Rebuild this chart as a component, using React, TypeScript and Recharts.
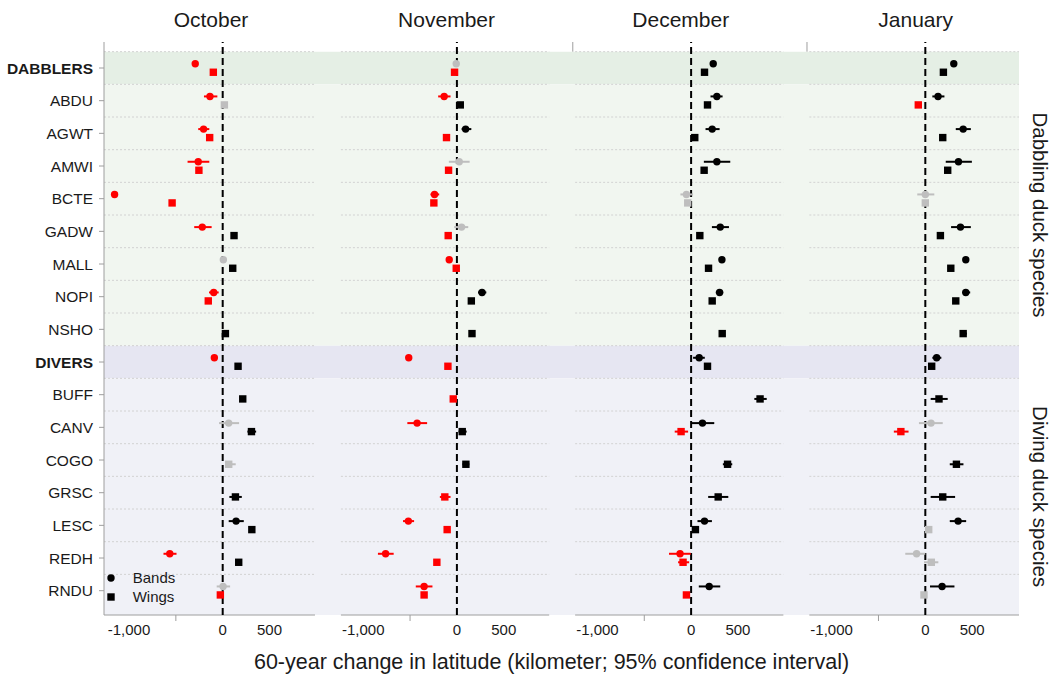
import React from "react";
import {
  ScatterChart,
  Scatter,
  XAxis,
  YAxis,
  ReferenceArea,
  ReferenceLine,
  ErrorBar,
  Legend,
} from "recharts";

// [estimate, CI low, CI high, significance] per species row, null = no estimate
type Est = [number, number | null, number | null, "n" | "p" | "ns"] | null;

const months = ["October", "November", "December", "January"];
const species = [
  "DABBLERS", "ABDU", "AGWT", "AMWI", "BCTE", "GADW", "MALL", "NOPI", "NSHO",
  "DIVERS", "BUFF", "CANV", "COGO", "GRSC", "LESC", "REDH", "RNDU",
];
const groupRows = ["DABBLERS", "DIVERS"];
const xTicks = [-1000, -500, 0, 500];
const xTickLabels = ["-1,000", "", "0", "500"];
const axisTitle = "60-year change in latitude (kilometer; 95% confidence interval)";

const octBands: Est[] = [
  [-293, null, null, "n"], [-136, -200, -57, "n"], [-204, -261, -143, "n"],
  [-261, -375, -143, "n"], [-1154, null, null, "n"], [-218, -304, -118, "n"],
  [7, null, null, "ns"], [-96, -146, -43, "n"], null,
  [-89, null, null, "n"], null, [64, -39, 175, "ns"], null, null,
  [143, 64, 225, "p"], [-565, -632, -493, "n"], [4, -64, 79, "ns"],
];
const octWings: Est[] = [
  [-100, null, null, "n"], [18, null, null, "ns"], [-139, null, null, "n"],
  [-254, null, null, "n"], [-540, null, null, "n"], [121, null, null, "p"],
  [107, null, null, "p"], [-154, null, null, "n"], [29, null, null, "p"],
  [164, null, null, "p"], [214, null, null, "p"], [307, 264, 357, "p"],
  [64, 25, 139, "ns"], [136, 71, 204, "p"], [311, null, null, "p"],
  [171, null, null, "p"], [-25, null, null, "n"],
];
const novBands: Est[] = [
  [-7, null, null, "ns"], [-136, -200, -68, "n"], [93, 50, 154, "p"],
  [25, -86, 136, "ns"], [-239, -282, -189, "n"], [50, -29, 121, "ns"],
  [-82, null, null, "n"], [268, 225, 314, "p"], null,
  [-514, null, null, "n"], null, [-425, -529, -318, "n"], null, null,
  [-518, -575, -457, "n"], [-761, -843, -675, "n"], [-350, -439, -261, "n"],
];
const novWings: Est[] = [
  [-25, null, null, "n"], [36, null, null, "p"], [-111, null, null, "n"],
  [-89, null, null, "n"], [-246, null, null, "n"], [-93, null, null, "n"],
  [-7, null, null, "n"], [154, null, null, "p"], [161, null, null, "p"],
  [-96, null, null, "n"], [-39, null, null, "n"], [57, 18, 104, "p"],
  [96, 60, 132, "p"], [-129, -182, -68, "n"], [-104, null, null, "n"],
  [-214, null, null, "n"], [-350, null, null, "n"],
];
const decBands: Est[] = [
  [236, null, null, "p"], [275, 207, 336, "p"], [225, 154, 304, "p"],
  [275, 136, 418, "p"], [-50, -114, 21, "ns"], [311, 222, 404, "p"],
  [329, null, null, "p"], [304, 264, 343, "p"], null,
  [86, 21, 146, "p"], null, [121, 4, 247, "p"], null, null,
  [143, 68, 222, "p"], [-118, -236, -4, "n"], [193, 82, 311, "p"],
];
const decWings: Est[] = [
  [143, null, null, "p"], [175, null, null, "p"], [39, null, null, "p"],
  [139, null, null, "p"], [-36, null, null, "ns"], [93, null, null, "p"],
  [186, null, null, "p"], [225, null, null, "p"], [332, null, null, "p"],
  [175, null, null, "p"], [736, 675, 807, "p"], [-107, -175, -32, "n"],
  [389, 339, 439, "p"], [289, 182, 397, "p"], [46, null, null, "p"],
  [-86, -139, -21, "n"], [-50, null, null, "n"],
];
const janBands: Est[] = [
  [304, null, null, "p"], [136, 75, 204, "p"], [404, 325, 486, "p"],
  [354, 218, 497, "p"], [0, -86, 96, "ns"], [375, 275, 486, "p"],
  [432, null, null, "p"], [432, 397, 479, "p"], null,
  [121, 75, 171, "p"], null, [61, -68, 186, "ns"], null, null,
  [350, 261, 436, "p"], [-93, -214, 0, "ns"], [179, 50, 311, "p"],
];
const janWings: Est[] = [
  [193, null, null, "p"], [-75, null, null, "n"], [186, null, null, "p"],
  [239, null, null, "p"], [0, null, null, "ns"], [161, null, null, "p"],
  [272, null, null, "p"], [325, null, null, "p"], [404, 372, 443, "p"],
  [68, null, null, "p"], [146, 57, 239, "p"], [-261, -336, -179, "n"],
  [332, 261, 407, "p"], [186, 57, 318, "p"], [36, null, null, "ns"],
  [64, -14, 139, "ns"], [-14, null, null, "ns"],
];

const bands = [octBands, novBands, decBands, janBands];
const wings = [octWings, novWings, decWings, janWings];

// the four month panels share one x axis, each shifted by PANEL km
const PANEL = 2500;
const LEFT = -1238;
const RIGHT = 985;
const X_MIN = -1267;
const X_MAX = 8500;
const Y_MIN = 0.204;
const Y_MAX = 17.744;
const DODGE = 0.13;

const FONT = "'Liberation Sans', Arial, Helvetica, sans-serif";
const TEXT = "#1a1a1a";
const AXIS = "#9e9e9e";
const COLORS = { n: "#ff0000", p: "#000000", ns: "#bebebe" };

const panelLeft = (k: number) => (k === 0 ? X_MIN : LEFT + k * PANEL);
const panelRight = (k: number) => (k === 3 ? X_MAX : RIGHT + k * PANEL);

function buildPoints(cols: Est[][], shift: number, sig: string) {
  const out: { x: number; y: number; err: [number, number] }[] = [];
  cols.forEach((col, k) =>
    col.forEach((e, i) => {
      if (!e || e[3] !== sig) return;
      const [est, lo, hi] = e;
      out.push({
        x: est + k * PANEL,
        y: i + 1 + shift,
        err: [lo == null ? 0 : est - lo, hi == null ? 0 : hi - est],
      });
    })
  );
  return out;
}

const rowTicks = species.map((_, i) => i + 1);
const xTickValues = months.flatMap((_, k) => xTicks.map((v) => v + k * PANEL));
const gridRows = species.map((_, i) => i + 0.5);

const YTick = (p: any) => {
  const name = species[p.payload.value - 1];
  return (
    <text
      x={p.x}
      y={p.y}
      dy={5.5}
      textAnchor="end"
      fontSize={15.5}
      fontFamily={FONT}
      fontWeight={groupRows.includes(name) ? 700 : 400}
      fill={TEXT}
    >
      {name}
    </text>
  );
};

const XTick = (p: any) => {
  const v = p.payload.value;
  const k = Math.round(v / PANEL);
  const local = v - k * PANEL;
  const label = xTickLabels[xTicks.indexOf(local)];
  return (
    <g>
      {local === -500 && (
        <line x1={p.x} x2={p.x} y1={p.y} y2={p.y + 6} stroke={AXIS} strokeWidth={1} />
      )}
      <text x={p.x} y={p.y + 20} textAnchor="middle" fontSize={15} fontFamily={FONT} fill={TEXT}>
        {label}
      </text>
    </g>
  );
};

const circleShape = (color: string) => (p: any) =>
  <circle cx={p.cx} cy={p.cy} r={3.7} fill={color} />;
const squareShape = (color: string) => (p: any) =>
  <rect x={p.cx - 3.7} y={p.cy - 3.7} width={7.4} height={7.4} fill={color} />;

const monthTitle = (text: string) => (p: any) => {
  const vb = p.viewBox || p;
  return (
    <text x={vb.x + vb.width / 2 + 1.5} y={vb.y - 15.5} textAnchor="middle" fontSize={21} fontFamily={FONT} fill={TEXT}>
      {text}
    </text>
  );
};

const stripLabel = (text: string) => (p: any) => {
  const vb = p.viewBox || p;
  const cx = vb.x + vb.width + 21.5;
  const cy = vb.y + vb.height / 2;
  return (
    <text
      x={cx}
      y={cy}
      transform={`rotate(90 ${cx} ${cy})`}
      textAnchor="middle"
      dominantBaseline="central"
      fontSize={20.5}
      fontFamily={FONT}
      fill={TEXT}
    >
      {text}
    </text>
  );
};

const axisLabel = (p: any) => {
  const vb = p.viewBox || p;
  return (
    <text x={vb.x + vb.width / 2 - 10} y={vb.y + vb.height - 7.3} textAnchor="middle" fontSize={21.5} fontFamily={FONT} fill={TEXT}>
      {axisTitle}
    </text>
  );
};

const LegendBox = () => (
  <svg width={100} height={40} style={{ display: "block" }}>
    <circle cx={7} cy={9} r={3.7} fill="#000" />
    <text x={28.7} y={14.3} fontSize={15} fontFamily={FONT} fill={TEXT}>Bands</text>
    <rect x={3.3} y={24.3} width={7.4} height={7.4} fill="#000" />
    <text x={28.7} y={33.3} fontSize={15} fontFamily={FONT} fill={TEXT}>Wings</text>
  </svg>
);

const sigOrder: ("ns" | "n" | "p")[] = ["ns", "n", "p"];

export default function App() {
  return (
    <div style={{ position: "absolute", left: 0, top: 0, background: "#fff" }}>
      <ScatterChart width={1059} height={676} margin={{ top: 42, right: 40, bottom: 0, left: 0 }}>
        <XAxis
          type="number"
          dataKey="x"
          domain={[X_MIN, X_MAX]}
          allowDataOverflow
          ticks={xTickValues}
          interval={0}
          height={61}
          tick={(p: any) => <XTick {...p} />}
          tickLine={false}
          axisLine={false}
          tickSize={0}
          tickMargin={0}
          label={axisLabel}
        />
        <YAxis
          type="number"
          dataKey="y"
          domain={[Y_MIN, Y_MAX]}
          allowDataOverflow
          reversed
          ticks={rowTicks}
          interval={0}
          width={104}
          tick={(p: any) => <YTick {...p} />}
          tickSize={5}
          tickMargin={6}
          axisLine={{ stroke: AXIS }}
          tickLine={{ stroke: AXIS }}
        />

        {/* row group backgrounds */}
        <ReferenceArea x1={X_MIN} x2={X_MAX} y1={0.5} y2={1.5} fill="#e5efe5" fillOpacity={1} ifOverflow="visible" />
        <ReferenceArea x1={X_MIN} x2={X_MAX} y1={1.5} y2={9.5} fill="#f1f6f0" fillOpacity={1} ifOverflow="visible"
          label={stripLabel("Dabbling duck species")} />
        <ReferenceArea x1={X_MIN} x2={X_MAX} y1={9.5} y2={10.5} fill="#e6e6f2" fillOpacity={1} ifOverflow="visible" />
        <ReferenceArea x1={X_MIN} x2={X_MAX} y1={10.5} y2={Y_MAX} fill="#f0f1f7" fillOpacity={1} ifOverflow="visible"
          label={stripLabel("Diving duck species")} />

        {months.map((m, k) => (
          <ReferenceArea key={`t${m}`} x1={panelLeft(k)} x2={panelRight(k)} y1={Y_MIN} y2={0.5}
            fill="none" stroke="none" ifOverflow="visible" label={monthTitle(m)} />
        ))}

        {months.flatMap((m, k) =>
          gridRows.map((r) => (
            <ReferenceLine key={`g${m}${r}`} segment={[{ x: panelLeft(k), y: r }, { x: panelRight(k), y: r }]}
              stroke="#d2d2d2" strokeDasharray="2 2" strokeWidth={1} ifOverflow="visible" />
          ))
        )}

        {months.map((m, k) => (
          <ReferenceLine key={`a${m}`} segment={[{ x: panelLeft(k), y: Y_MAX }, { x: panelRight(k), y: Y_MAX }]}
            stroke={AXIS} strokeWidth={1} ifOverflow="visible" />
        ))}
        {[2, 3].map((k) => (
          <ReferenceLine key={`s${k}`} segment={[{ x: panelLeft(k) - 25, y: Y_MIN }, { x: panelLeft(k) - 25, y: 0.5 }]}
            stroke={AXIS} strokeWidth={1} ifOverflow="visible" />
        ))}

        {months.map((m, k) => (
          <ReferenceLine key={`z${m}`} x={k * PANEL} stroke="#000" strokeWidth={2} strokeDasharray="7 4" ifOverflow="visible" />
        ))}

        {sigOrder.map((sig) => (
          <Scatter key={`w${sig}`} name="Wings" data={buildPoints(wings, DODGE, sig)}
            shape={squareShape(COLORS[sig])} isAnimationActive={false}>
            <ErrorBar dataKey="err" direction="x" width={0} stroke={COLORS[sig]} strokeWidth={2} />
          </Scatter>
        ))}
        {sigOrder.map((sig) => (
          <Scatter key={`b${sig}`} name="Bands" data={buildPoints(bands, -DODGE, sig)}
            shape={circleShape(COLORS[sig])} isAnimationActive={false}>
            <ErrorBar dataKey="err" direction="x" width={0} stroke={COLORS[sig]} strokeWidth={2} />
          </Scatter>
        ))}

        <Legend layout="horizontal" verticalAlign="middle" align="center"
          wrapperStyle={{ left: 104, top: 569, width: 100, height: 40 }}
          content={() => <LegendBox />} />
      </ScatterChart>
    </div>
  );
}
